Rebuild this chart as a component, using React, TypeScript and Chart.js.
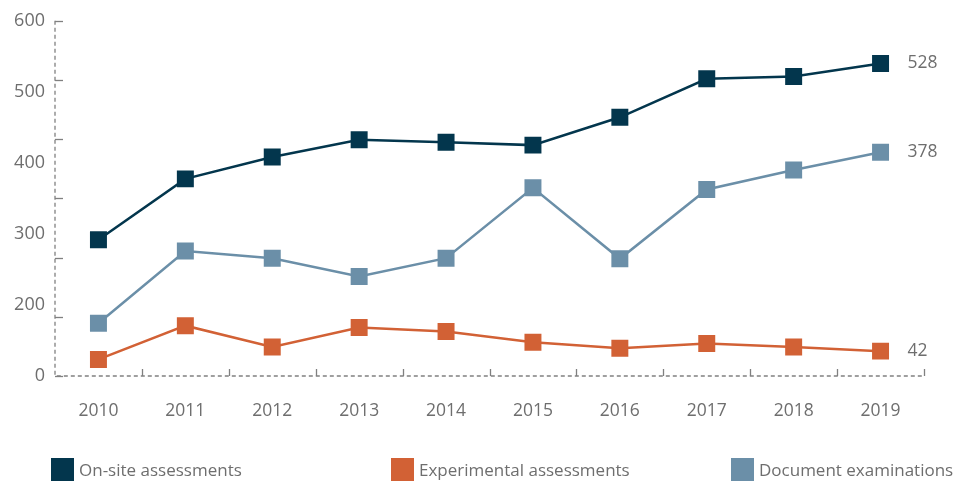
import React, { useEffect, useRef } from "react";
import { Chart, registerables } from "chart.js";

Chart.register(...registerables);

const years = ["2010", "2011", "2012", "2013", "2014", "2015", "2016", "2017", "2018", "2019"];
const onSite = [230, 333, 370, 399, 395, 390, 437, 502, 506, 528];
const experimental = [28, 85, 49, 82, 75, 57, 47, 55, 49, 42];
const documentExams = [89, 211, 199, 168, 199, 318, 198, 315, 348, 378];
const yTickLabels = ["0", "200", "300", "400", "500", "600"];
const seriesNames = ["On-site assessments", "Experimental assessments", "Document examinations"];
const seriesColors = ["#03364d", "#d26135", "#6b8fa8"];

const FONT = "'Open Sans', sans-serif";
const TEXT = "#6e6e6e";
const AXIS = "#808080";

const axesPlugin = {
  id: "customAxes",
  afterDatasetsDraw(chart: any) {
    const ctx = chart.ctx;
    const ca = chart.chartArea;
    const x = chart.scales.x;
    const y = chart.scales.y;
    ctx.save();
    ctx.strokeStyle = AXIS;
    ctx.lineWidth = 1.3;
    ctx.setLineDash([4, 3]);
    ctx.beginPath();
    ctx.moveTo(ca.left, y.getPixelForValue(600));
    ctx.lineTo(ca.left, ca.bottom);
    ctx.lineTo(ca.right, ca.bottom);
    ctx.stroke();
    ctx.setLineDash([]);
    for (let v = 0; v <= 600; v += 100) {
      const py = Math.round(y.getPixelForValue(v)) + 0.5;
      ctx.beginPath();
      ctx.moveTo(ca.left, py);
      ctx.lineTo(ca.left + 8, py);
      ctx.stroke();
    }
    const n = years.length;
    for (let i = 1; i <= n; i++) {
      const px = i < n
        ? (x.getPixelForValue(i - 1) + x.getPixelForValue(i)) / 2
        : x.getPixelForValue(n - 1) + (x.getPixelForValue(1) - x.getPixelForValue(0)) / 2;
      const rx = Math.round(px) + 0.5;
      ctx.beginPath();
      ctx.moveTo(rx, ca.bottom);
      ctx.lineTo(rx, ca.bottom - 7);
      ctx.stroke();
    }
    ctx.fillStyle = TEXT;
    ctx.font = `17.5px ${FONT}`;
    ctx.textAlign = "left";
    ctx.textBaseline = "middle";
    chart.data.datasets.forEach((ds: any, di: number) => {
      const meta = chart.getDatasetMeta(di);
      const last = meta.data[meta.data.length - 1];
      ctx.fillText(String(ds.data[ds.data.length - 1]), last.x + 27, last.y);
    });
    ctx.restore();
  },
};

export default function App() {
  const ref = useRef<HTMLCanvasElement>(null);
  useEffect(() => {
    if (!ref.current) return;
    const series = [onSite, experimental, documentExams];
    const chart = new Chart(ref.current, {
      type: "line",
      data: {
        labels: years,
        datasets: series.map((d, i) => ({
          label: seriesNames[i],
          data: d,
          borderColor: seriesColors[i],
          backgroundColor: seriesColors[i],
          borderWidth: 2.5,
          pointStyle: "rect",
          pointRadius: 12,
          pointBorderWidth: 0,
          tension: 0,
          yAxisID: "y",
          order: i === 0 ? 0 : i === 2 ? 1 : 2,
        })),
      },
      options: {
        animation: false,
        responsive: false,
        layout: { padding: { top: 17, right: 39, bottom: 45, left: 0 } },
        plugins: { legend: { display: false }, tooltip: { enabled: false } },
        scales: {
          x: {
            type: "category",
            offset: true,
            grid: { display: false },
            border: { display: false },
            ticks: { color: TEXT, font: { family: FONT, size: 17.5 }, padding: 17 },
            afterFit: (s: any) => { s.height = 60; },
          },
          y: {
            type: "linear",
            display: false,
            min: 0,
            max: 600,
          },
          y2: {
            type: "linear",
            position: "left",
            min: 0,
            max: yTickLabels.length - 1,
            grid: { display: false, drawTicks: false },
            border: { display: false },
            ticks: {
              stepSize: 1,
              color: TEXT,
              padding: 10,
              font: { family: FONT, size: 18 },
              callback: (v: any) => yTickLabels[v as number],
            },
            afterFit: (s: any) => { s.width = 55; },
          },
        },
      },
      plugins: [axesPlugin],
    });
    return () => chart.destroy();
  }, []);

  const legendX = [51, 391, 731];
  return (
    <div style={{ position: "fixed", left: 0, top: 0, width: 963, height: 481, background: "#fff" }}>
      <canvas ref={ref} width={963} height={481} style={{ position: "absolute", left: 0, top: 0 }} />
      {seriesNames.map((name, i) => (
        <div
          key={name}
          style={{
            position: "absolute",
            left: legendX[i],
            top: 458,
            height: 23,
            display: "flex",
            alignItems: "center",
            fontFamily: FONT,
            fontSize: 17,
            color: TEXT,
            whiteSpace: "nowrap",
          }}
        >
          <span style={{ display: "inline-block", width: 23, height: 23, background: seriesColors[i], marginRight: 5 }} />
          <span>{name}</span>
        </div>
      ))}
    </div>
  );
}
